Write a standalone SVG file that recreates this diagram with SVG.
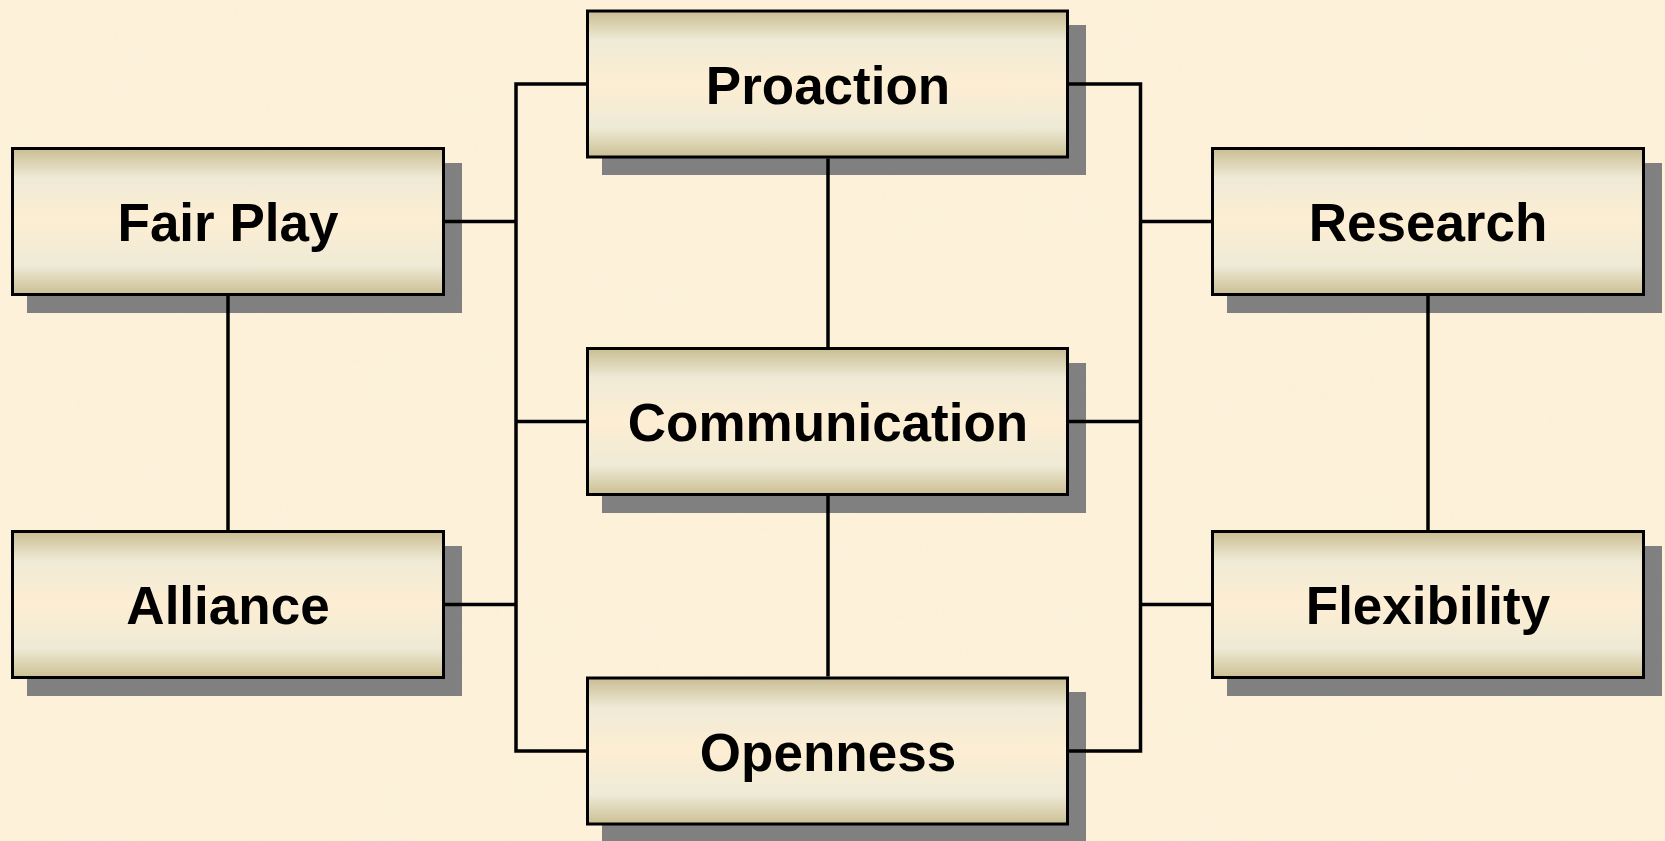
<svg xmlns="http://www.w3.org/2000/svg" width="1665" height="841" viewBox="0 0 1665 841">
  <defs>
    <linearGradient id="boxFill" x1="0" y1="0" x2="0" y2="1">
      <stop offset="0" stop-color="#c9bd92"/>
      <stop offset="0.2" stop-color="#efead6"/>
      <stop offset="0.5" stop-color="#fdeed3"/>
      <stop offset="0.8" stop-color="#eeead6"/>
      <stop offset="1" stop-color="#cbbf93"/>
    </linearGradient>
    <filter id="parchment" x="0" y="0" width="100%" height="100%">
      <feTurbulence type="fractalNoise" baseFrequency="0.012" numOctaves="3" seed="7"/>
      <feColorMatrix type="matrix" values="0 0 0 0 0.93  0 0 0 0 0.86  0 0 0 0 0.68  0 0 0 1.2 -0.55"/>
    </filter>
    <style>
      .shadow { fill: #808080; }
      .box { fill: url(#boxFill); stroke: #000; stroke-width: 3; }
      .label { font-family: "Liberation Sans", Arial, sans-serif; font-weight: bold; font-size: 53px; fill: #000; text-anchor: middle; }
      .wire { fill: none; stroke: #000; stroke-width: 3.5; }
    </style>
  </defs>

  <!-- parchment background -->
  <rect width="1665" height="841" fill="#fdf1da"/>
  <rect width="1665" height="841" filter="url(#parchment)" opacity="0.4"/>

  <g id="proaction">
    <rect class="shadow" x="602" y="25" width="484" height="150"/>
    <rect class="box" x="587.5" y="11" width="480" height="146"/>
    <text class="label" x="828" y="103.5">Proaction</text>
  </g>

  <g id="fair-play">
    <rect class="shadow" x="27" y="163" width="435" height="150"/>
    <rect class="box" x="12.5" y="148.5" width="431" height="146"/>
    <text class="label" x="228" y="241">Fair Play</text>
  </g>

  <g id="research">
    <rect class="shadow" x="1227" y="163" width="435" height="150"/>
    <rect class="box" x="1212.5" y="148.5" width="431" height="146"/>
    <text class="label" x="1428" y="241">Research</text>
  </g>

  <g id="communication">
    <rect class="shadow" x="602" y="363" width="484" height="150"/>
    <rect class="box" x="587.5" y="348.5" width="480" height="146"/>
    <text class="label" x="828" y="441">Communication</text>
  </g>

  <g id="alliance">
    <rect class="shadow" x="27" y="546" width="435" height="150"/>
    <rect class="box" x="12.5" y="531.5" width="431" height="146"/>
    <text class="label" x="228" y="624">Alliance</text>
  </g>

  <g id="flexibility">
    <rect class="shadow" x="1227" y="546" width="435" height="150"/>
    <rect class="box" x="1212.5" y="531.5" width="431" height="146"/>
    <text class="label" x="1428" y="624">Flexibility</text>
  </g>

  <g id="openness">
    <rect class="shadow" x="602" y="692" width="484" height="150"/>
    <rect class="box" x="587.5" y="678" width="480" height="146"/>
    <text class="label" x="828" y="770.5">Openness</text>
  </g>

  <!-- connectors, drawn over the drop shadows -->
  <g id="connectors" class="wire">
    <!-- left bus -->
    <polyline points="587.5,84 516,84 516,751 587.5,751"/>
    <line x1="445" y1="221.5" x2="516" y2="221.5"/>
    <line x1="516" y1="421.5" x2="587.5" y2="421.5"/>
    <line x1="445" y1="604.5" x2="516" y2="604.5"/>
    <!-- right bus -->
    <polyline points="1069,84 1140.5,84 1140.5,751 1069,751"/>
    <line x1="1140.5" y1="221.5" x2="1211" y2="221.5"/>
    <line x1="1069" y1="421.5" x2="1140.5" y2="421.5"/>
    <line x1="1140.5" y1="604.5" x2="1211" y2="604.5"/>
    <!-- vertical links -->
    <line x1="228" y1="296" x2="228" y2="530"/>
    <line x1="1428" y1="296" x2="1428" y2="530"/>
    <line x1="828" y1="158.5" x2="828" y2="347"/>
    <line x1="828" y1="496" x2="828" y2="676.5"/>
  </g>
</svg>
